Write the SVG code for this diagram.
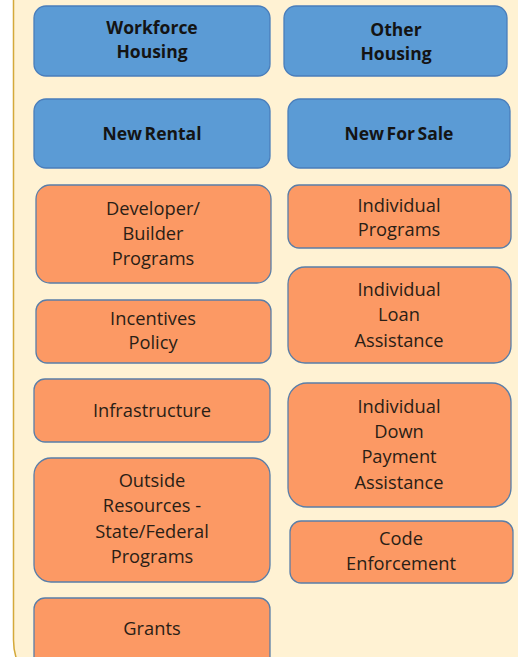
<svg xmlns="http://www.w3.org/2000/svg" width="518" height="657" viewBox="0 0 518 657">
<style>
.bg{fill:#FFF2D3;stroke:#D4A93A;stroke-width:1.5}
.blue rect{fill:#5B9BD5;stroke:#4A7EBB;stroke-width:1.3}
.orange rect{fill:#FC9964;stroke:#5A7EA8;stroke-width:1.3}
.blue text{font-family:"Open Sans","DejaVu Sans",sans-serif;font-weight:bold;font-size:17.5px;fill:#141414;text-anchor:middle;word-spacing:-2px}
.orange text{font-family:"Open Sans","DejaVu Sans",sans-serif;font-size:18.3px;fill:#2A1E16;text-anchor:middle}
</style>
<rect width="518" height="657" fill="#FFFFFF"/>
<path class="bg" d="M13.5,-5 V640 A60,60 0 0 0 21.5,670 L530,670 L530,-5 Z"/>
<g id="workforce-housing" class="blue"><rect x="34" y="6" width="236" height="70" rx="12"/><text x="152" y="34">Workforce</text><text x="152" y="58">Housing</text></g>
<g id="other-housing" class="blue"><rect x="284" y="6" width="223" height="70" rx="12"/><text x="396" y="36">Other</text><text x="396" y="60">Housing</text></g>
<g id="new-rental" class="blue"><rect x="34" y="99" width="236" height="69" rx="12"/><text x="152" y="140">New Rental</text></g>
<g id="new-for-sale" class="blue"><rect x="288" y="99" width="222" height="69" rx="12"/><text x="399" y="140">New For Sale</text></g>
<g id="developer-builder-programs" class="orange"><rect x="36" y="185" width="235" height="98" rx="14"/><text x="153" y="215">Developer/</text><text x="153" y="240">Builder</text><text x="153" y="265">Programs</text></g>
<g id="incentives-policy" class="orange"><rect x="36" y="300" width="235" height="63" rx="11"/><text x="153" y="325">Incentives</text><text x="153" y="349">Policy</text></g>
<g id="infrastructure" class="orange"><rect x="34" y="379" width="236" height="63" rx="11"/><text x="152" y="417">Infrastructure</text></g>
<g id="outside-resources" class="orange"><rect x="34" y="458" width="236" height="124" rx="17"/><text x="152" y="487">Outside</text><text x="152" y="512">Resources -</text><text x="152" y="538">State/Federal</text><text x="152" y="563">Programs</text></g>
<g id="grants" class="orange"><rect x="34" y="598" width="236" height="75" rx="11"/><text x="152" y="635">Grants</text></g>
<g id="individual-programs" class="orange"><rect x="288" y="185" width="223" height="63" rx="11"/><text x="399" y="212">Individual</text><text x="399" y="236">Programs</text></g>
<g id="individual-loan-assistance" class="orange"><rect x="288" y="267" width="223" height="96" rx="17"/><text x="399" y="296">Individual</text><text x="399" y="321">Loan</text><text x="399" y="347">Assistance</text></g>
<g id="individual-down-payment-assistance" class="orange"><rect x="288" y="383" width="223" height="124" rx="19"/><text x="399" y="413">Individual</text><text x="399" y="438">Down</text><text x="399" y="463">Payment</text><text x="399" y="489">Assistance</text></g>
<g id="code-enforcement" class="orange"><rect x="290" y="521" width="223" height="62" rx="11"/><text x="401" y="545">Code</text><text x="401" y="570">Enforcement</text></g>
<g id="connectors"></g>
</svg>
